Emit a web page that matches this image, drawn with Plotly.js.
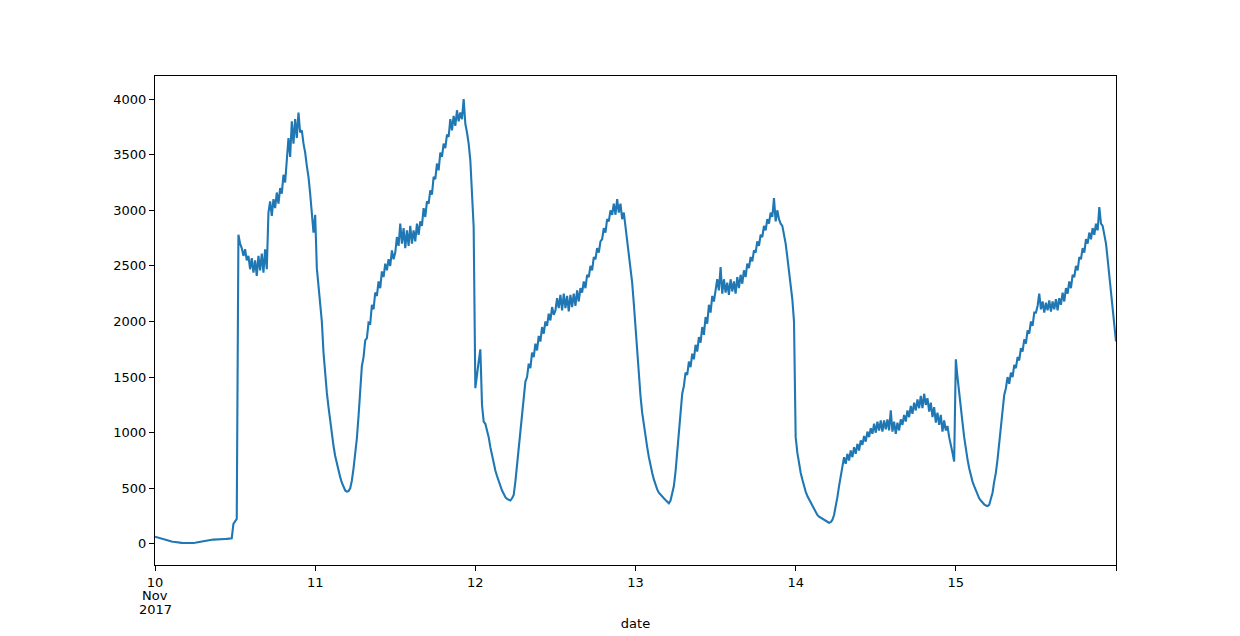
<!DOCTYPE html>
<html>
<head>
<meta charset="utf-8">
<script src="https://cdn.plot.ly/plotly-3.0.1.min.js"></script>
<style>html,body{margin:0;padding:0;background:#fff;}#chart{width:1240px;height:636px;}</style>
</head>
<body>
<div id="chart"></div>
<script>
// Readings every 15 minutes, starting 2017-11-10 00:00
const startTime = '2017-11-10T00:00:00Z';
const stepMinutes = 15;

const day10 = [
  65, 60, 55, 50,   45, 40, 36, 32,   28, 25, 22, 19,   16, 14, 12, 10,
  9, 8, 7, 7,       6, 6, 7, 8,       10, 13, 16, 20,   24, 28, 31, 33,
  35, 36, 37, 38,   38, 39, 40, 41,   42, 43, 44, 45,   46, 48, 50, 180,
  210, 225, 2780, 2700,   2660, 2590, 2650, 2550,   2590, 2470, 2570, 2440,   2550, 2410, 2590, 2460,
  2610, 2440, 2650, 2470,   2980, 3080, 2950, 3100,   3020, 3160, 3060, 3200,   3150, 3320, 3250, 3500,
  3650, 3480, 3800, 3600,   3820, 3650, 3880, 3700,   3720, 3600, 3520, 3400,   3300, 3150, 2950, 2800
];
const day11 = [
  2960, 2480, 2320, 2150,   2000, 1720, 1520, 1360,   1230, 1100, 980, 880,   790, 720, 660, 600,
  550, 510, 480, 470,       475, 500, 570, 680,       810, 950, 1150, 1380,   1600, 1680, 1830, 1850,
  1990, 1980, 2150, 2110,   2260, 2230, 2360, 2300,   2450, 2400, 2520, 2460,   2560, 2500, 2640, 2560,
  2620, 2760, 2680, 2880,   2700, 2840, 2660, 2820,   2680, 2860, 2700, 2820,   2720, 2880, 2780, 2900,
  2860, 3020, 2940, 3080,   3060, 3180, 3140, 3300,   3280, 3420, 3360, 3520,   3480, 3600, 3560, 3680,
  3660, 3820, 3720, 3850,   3760, 3900, 3800, 3880,   3820, 4000, 3780, 3700,   3600, 3450, 3200, 2850
];
const day12 = [
  1400, 1500, 1640, 1750,   1250, 1100, 1080, 1020,   960, 870, 790, 720,   660, 610, 560, 520,
  480, 450, 420, 405,       395, 390, 410, 440,       560, 700, 850, 1020,   1180, 1280, 1460, 1500,
  1620, 1580, 1720, 1680,   1800, 1740, 1870, 1820,   1950, 1890, 2000, 1960,   2070, 2010, 2130, 2060,
  2100, 2210, 2120, 2240,   2100, 2250, 2120, 2230,   2090, 2240, 2130, 2250,   2140, 2280, 2180, 2300,
  2260, 2360, 2300, 2420,   2400, 2500, 2460, 2580,   2560, 2660, 2620, 2720,   2740, 2840, 2800, 2920,
  2900, 3000, 2960, 3060,   2960, 3100, 2980, 3060,   2920, 2980, 2860, 2760,   2620, 2500, 2350, 2160
];
const day13 = [
  1930, 1710, 1500, 1330,   1180, 1060, 960, 870,   780, 700, 640, 580,   530, 490, 460, 440,
  420, 410, 395, 380,       365, 390, 450, 520,     650, 810, 1000, 1170,  1350, 1420, 1540, 1520,
  1640, 1590, 1710, 1660,   1790, 1730, 1860, 1810,  1950, 1880, 2040, 1980,  2150, 2080, 2230, 2180,
  2300, 2380, 2280, 2490,   2250, 2380, 2260, 2350,  2240, 2380, 2270, 2360,  2250, 2400, 2300, 2420,
  2340, 2460, 2400, 2520,   2480, 2580, 2540, 2640,  2620, 2720, 2680, 2780,  2760, 2860, 2820, 2920,
  2880, 2980, 2940, 3110,   2900, 3000, 2920, 2880,  2860, 2790, 2700, 2580,  2460, 2330, 2200, 2000
];
const day14 = [
  960, 820, 720, 640,       580, 520, 470, 430,     400, 370, 340, 310,     280, 260, 245, 235,
  225, 215, 205, 200,       190, 195, 215, 260,     330, 420, 520, 620,     700, 780, 720, 810,
  750, 840, 780, 870,       810, 900, 840, 930,     890, 970, 920, 1010,    960, 1040, 990, 1080,
  1000, 1100, 1020, 1110,   1010, 1110, 1030, 1120, 1020, 1200, 1010, 1100, 990, 1090, 1020, 1120,
  1070, 1160, 1100, 1200,   1140, 1240, 1170, 1270, 1200, 1300, 1220, 1330, 1220, 1350, 1250, 1310,
  1190, 1270, 1140, 1230,   1090, 1180, 1070, 1160, 1010, 1110, 1020, 1060, 960, 900, 820, 740
];
const day15 = [
  1660, 1500, 1380, 1250,   1090, 960, 850, 760,    680, 610, 560, 520,     480, 440, 410, 390,
  370, 355, 345, 340,       350, 400, 460, 560,     640, 760, 900, 1050,    1200, 1340, 1400, 1500,
  1440, 1540, 1500, 1610,   1580, 1680, 1650, 1760, 1730, 1840, 1800, 1920, 1890, 2000, 1960, 2080,
  2080, 2140, 2250, 2110,   2180, 2080, 2170, 2100, 2190, 2090, 2180, 2110, 2200, 2100, 2210, 2150,
  2260, 2180, 2300, 2250,   2360, 2300, 2420, 2400, 2500, 2460, 2580, 2560, 2660, 2620, 2740, 2700,
  2800, 2740, 2840, 2780,   2880, 2820, 3030, 2880, 2860, 2780, 2700, 2560, 2420, 2260, 2100, 1960,
  1820
];

const tickDates = ['2017-11-10', '2017-11-11', '2017-11-12', '2017-11-13', '2017-11-14', '2017-11-15', '2017-11-16'];
const tickLabels = ['10', '11', '12', '13', '14', '15', ''];
const firstTickExtra = ['Nov', '2017'];
const yTicks = [0, 500, 1000, 1500, 2000, 2500, 3000, 3500, 4000];

const values = [].concat(day10, day11, day12, day13, day14, day15);
const t0 = Date.parse(startTime);
const times = values.map((_, i) => new Date(t0 + i * stepMinutes * 60000).toISOString().slice(0, 16).replace('T', ' '));

const font = {family: 'DejaVu Sans, sans-serif', size: 13, color: '#000'};
const extraY = [-0.0614, -0.0920];

Plotly.newPlot('chart', [{
  x: times, y: values, type: 'scatter', mode: 'lines',
  line: {color: '#1f77b4', width: 2.1}, hoverinfo: 'x+y'
}], {
  width: 1240, height: 636,
  margin: {l: 155, r: 124, t: 76, b: 71},
  paper_bgcolor: '#fff', plot_bgcolor: '#fff',
  showlegend: false,
  font: font,
  annotations: firstTickExtra.map((t, i) => ({
    text: t, x: tickDates[0], xref: 'x', y: extraY[i], yref: 'paper',
    xanchor: 'center', yanchor: 'middle', showarrow: false, font: font, borderpad: 0
  })),
  xaxis: {
    type: 'date', range: ['2017-11-10 00:00', '2017-11-16 00:00'],
    tickmode: 'array', tickvals: tickDates, ticktext: tickLabels,
    showgrid: false, zeroline: false,
    showline: true, linecolor: '#000', linewidth: 1, mirror: true,
    ticks: 'outside', ticklen: 5, tickwidth: 1, tickcolor: '#000',
    tickfont: font,
    title: {text: 'date', font: font, standoff: 30}
  },
  yaxis: {
    range: [-190, 4208],
    tickmode: 'array', tickvals: yTicks,
    showgrid: false, zeroline: false,
    showline: true, linecolor: '#000', linewidth: 1, mirror: true,
    ticks: 'outside', ticklen: 5, tickwidth: 1, tickcolor: '#000',
    tickfont: font
  }
}, {displayModeBar: false, staticPlot: true});
</script>
</body>
</html>
